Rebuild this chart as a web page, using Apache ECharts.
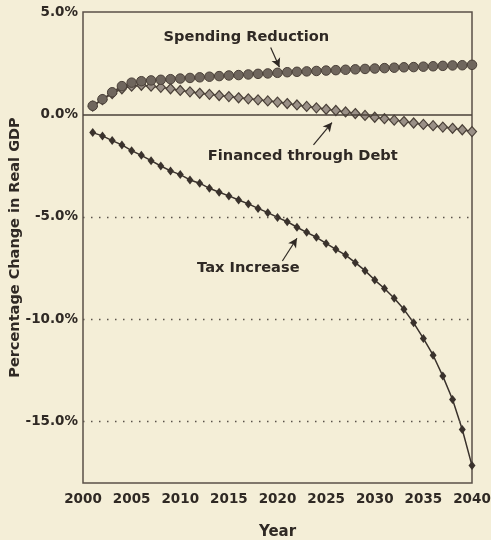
<!DOCTYPE html>
<html>
<head>
<meta charset="utf-8">
<script src="https://cdn.jsdelivr.net/npm/echarts@6/dist/echarts.min.js"></script>
<style>
html,body{margin:0;padding:0;background:#f4eed7;}
#chart{width:491px;height:540px;}
</style>
</head>
<body>
<div id="chart"></div>
<script>
var years = [2001,2002,2003,2004,2005,2006,2007,2008,2009,2010,2011,2012,2013,2014,2015,2016,2017,2018,2019,2020,2021,2022,2023,2024,2025,2026,2027,2028,2029,2030,2031,2032,2033,2034,2035,2036,2037,2038,2039,2040];
var spending = [0.42,0.74,1.08,1.38,1.55,1.62,1.66,1.69,1.72,1.75,1.78,1.81,1.84,1.87,1.90,1.92,1.95,1.98,2.00,2.03,2.06,2.08,2.10,2.12,2.14,2.16,2.18,2.20,2.22,2.24,2.26,2.28,2.30,2.31,2.33,2.35,2.37,2.39,2.40,2.42];
var debt = [0.40,0.72,1.02,1.25,1.38,1.42,1.38,1.32,1.25,1.17,1.10,1.03,0.98,0.92,0.87,0.81,0.76,0.71,0.66,0.60,0.53,0.46,0.39,0.32,0.25,0.19,0.12,0.04,-0.05,-0.14,-0.21,-0.28,-0.35,-0.42,-0.49,-0.55,-0.62,-0.68,-0.75,-0.84];
var tax = [-0.89,-1.05,-1.28,-1.49,-1.77,-2.00,-2.26,-2.52,-2.76,-2.94,-3.20,-3.36,-3.61,-3.80,-3.98,-4.18,-4.37,-4.59,-4.80,-5.03,-5.24,-5.51,-5.76,-6.00,-6.30,-6.59,-6.87,-7.24,-7.63,-8.09,-8.50,-8.98,-9.52,-10.18,-10.94,-11.76,-12.78,-13.92,-15.39,-17.15];
var yTicks = [-15,-10,-5,0,5];
var gridLines = [-15,-10,-5];
var seriesNames = ['Spending Reduction','Financed through Debt','Tax Increase'];
// annotation text positions [year, value] and arrows [from, to]
var labelPos = [[2016.8,3.77],[2022.6,-2.03],[2017.0,-7.5]];
var arrows = [[[2019.3,3.27],[2020.2,2.3]],[[2023.7,-1.49],[2025.6,-0.4]],[[2020.5,-7.16],[2022.0,-6.05]]];

function pairs(vals){return years.map(function(y,i){return [y,vals[i]];});}

var ink = '#2f2924';
var font = 'DejaVu Sans, Liberation Sans, sans-serif';
var chart = echarts.init(document.getElementById('chart'));
var option = {
  backgroundColor:'#f4eed7',
  animation:false,
  textStyle:{fontFamily:font},
  grid:{left:83,right:19,top:12,bottom:57,outerBoundsMode:'none',containLabel:false,show:true,borderColor:'#5a5048',borderWidth:1.5,backgroundColor:'transparent'},
  xAxis:{type:'value',min:2000,max:2040,interval:5,
    name:'Year',nameLocation:'middle',nameGap:42,nameMoveOverlap:false,
    nameTextStyle:{fontSize:15,color:ink,fontWeight:'bold',fontFamily:font},
    axisLine:{show:false},axisTick:{show:false},splitLine:{show:false},
    axisLabel:{fontSize:13.5,color:ink,fontWeight:'bold',fontFamily:font,margin:9,formatter:function(v){return String(v);}}},
  yAxis:{type:'value',min:-18,max:5,interval:1,
    name:'Percentage Change in Real GDP',nameLocation:'middle',nameGap:60,nameMoveOverlap:false,
    nameTextStyle:{fontSize:14.5,color:ink,fontWeight:'bold',fontFamily:font},
    axisLine:{show:false},axisTick:{show:false},splitLine:{show:false},
    axisLabel:{fontSize:13.5,color:ink,fontWeight:'bold',fontFamily:font,margin:5,showMinLabel:true,showMaxLabel:true,
      formatter:function(v){return yTicks.indexOf(v)>=0 ? v.toFixed(1)+'%' : '';}}},
  series:[
    {name:seriesNames[2],type:'line',data:pairs(tax),symbol:'diamond',symbolSize:[7,9],
      lineStyle:{color:'#3a322c',width:1.5},itemStyle:{color:'#3a322c'},z:3,
      markLine:{silent:true,symbol:'none',label:{show:false},
        data:gridLines.map(function(v){return {yAxis:v,lineStyle:{type:[1.5,6.5],color:'#5a524a',width:1.3}};})
          .concat([{yAxis:0,lineStyle:{type:'solid',color:'#4a4038',width:1.5}}])}},
    {name:seriesNames[1],type:'line',data:pairs(debt),symbol:'diamond',symbolSize:[9,10],
      lineStyle:{color:'#4a4038',width:1.5},itemStyle:{color:'#9a9087',borderColor:'#4a4038',borderWidth:1.2},z:4},
    {name:seriesNames[0],type:'line',data:pairs(spending),symbol:'circle',symbolSize:9.5,
      lineStyle:{color:'#4a4038',width:1.5},itemStyle:{color:'#6f665d',borderColor:'#4a4038',borderWidth:1},z:5},
    {name:'annotations',type:'scatter',symbolSize:1,silent:true,z:6,itemStyle:{color:'rgba(0,0,0,0)',opacity:1},
      data:labelPos.map(function(p,i){return {value:p,label:{show:true,position:'inside',formatter:seriesNames[i],fontSize:14.6,fontWeight:'bold',fontFamily:font,color:ink,opacity:1,textBorderWidth:0}};}),
      markLine:{silent:true,symbol:['none','arrow'],symbolSize:[7,9],label:{show:false},
        lineStyle:{type:'solid',color:ink,width:1.2,opacity:1},
        data:arrows.map(function(a){return [{coord:a[0]},{coord:a[1]}];})}}
  ]
};
chart.setOption(option);
</script>
</body>
</html>
